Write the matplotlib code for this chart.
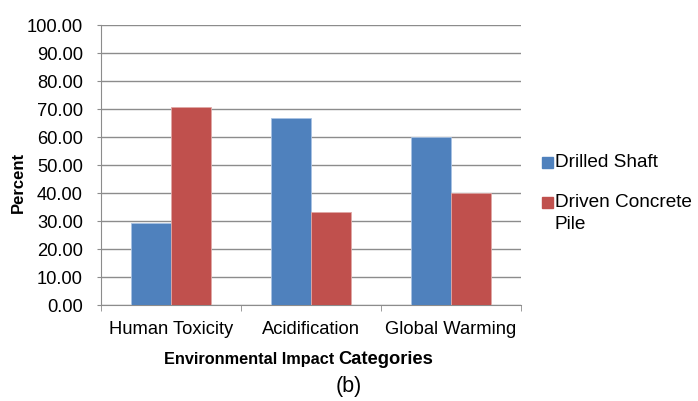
import matplotlib.pyplot as plt
import numpy as np

plt.rcParams['font.family'] = ['Liberation Sans', 'DejaVu Sans']

categories = ['Human Toxicity', 'Acidification', 'Global Warming']
drilled_shaft = [29.2, 66.7, 60.0]
driven_pile = [70.8, 33.3, 40.0]
series_names = ['Drilled Shaft', 'Driven Concrete\nPile']
colors = ['#4f81bd', '#c0504d']

fig = plt.figure(figsize=(6.98, 4.02), dpi=100)
ax = fig.add_axes([101 / 698, 1 - 306 / 402, 420 / 698, 280 / 402])

x = np.arange(len(categories))
w = 0.286
ax.bar(x - w / 2, drilled_shaft, w, color=colors[0], edgecolor='#a8c2e4', linewidth=0.6, zorder=3)
ax.bar(x + w / 2, driven_pile, w, color=colors[1], edgecolor='#e0a8a6', linewidth=0.6, zorder=3)

ax.set_xlim(-0.5, 2.5)
ax.set_ylim(0, 100)
ax.set_yticks(np.arange(0, 101, 10))
ax.set_yticklabels([f'{v:.2f}' for v in np.arange(0, 101, 10)], fontsize=13.2)
ax.yaxis.grid(True, color='#8c8c8c', linewidth=1, zorder=0)
ax.set_xticks(x)
ax.set_xticklabels(categories, fontsize=13.2)
ax.set_xticks([-0.5, 0.5, 1.5, 2.5], minor=True)
ax.tick_params(axis='x', which='major', length=0, pad=10.5)
ax.tick_params(axis='x', which='minor', length=4, color='#8c8c8c', direction='out')
ax.tick_params(axis='y', length=3, color='#8c8c8c', pad=10)
for s in ['top', 'right']:
    ax.spines[s].set_visible(False)
for s in ['left', 'bottom']:
    ax.spines[s].set_color('#8c8c8c')

fig.text(18 / 698, 1 - 182 / 402, 'Percent', rotation=90, fontsize=12, fontweight='bold',
         ha='center', va='center')
fig.text(334 / 698, 1 - 364 / 402, 'Environmental Impact', fontsize=11.7, fontweight='bold',
         ha='right', va='baseline')
fig.text(338 / 698, 1 - 364 / 402, 'Categories', fontsize=13.2, fontweight='bold',
         ha='left', va='baseline')
fig.text(349 / 698, 1 - 387 / 402, '(b)', fontsize=15.5, ha='center', va='center')

# legend
leg_top = [154, 194]
for name, c, yy in zip(series_names, colors, leg_top):
    fig.patches.append(plt.Rectangle((542 / 698, 1 - (yy + 15) / 402), 11 / 698, 11 / 402,
                                     transform=fig.transFigure, color=c, figure=fig))
    fig.text(555 / 698, 1 - yy / 402, name, fontsize=13.7, ha='left', va='top',
             linespacing=1.42)

fig.savefig('out.png', dpi=100)
